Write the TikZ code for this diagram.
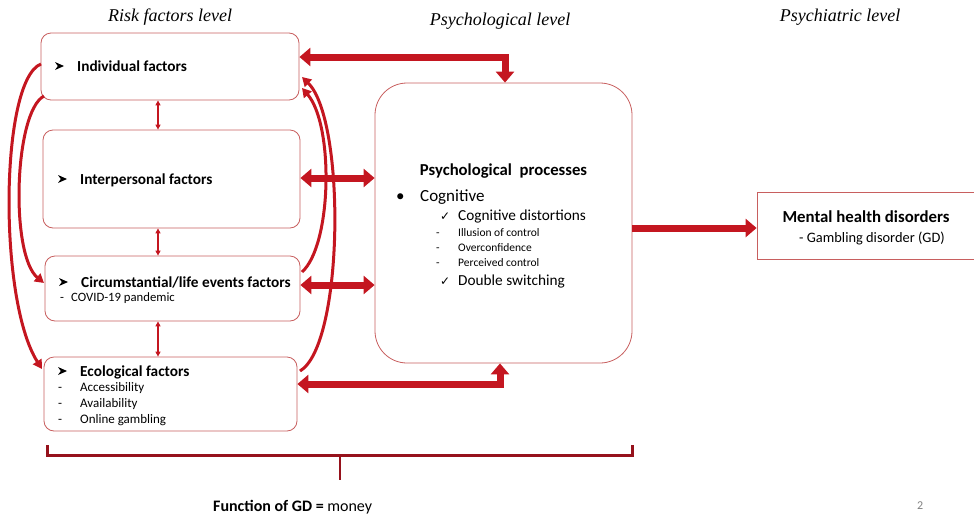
\documentclass[tikz,border=0pt]{standalone}
\usepackage{fontspec}
\setmainfont{Carlito}
\newfontfamily\titlefont{Liberation Serif}
\newfontfamily\symfont{DejaVu Sans}
\usetikzlibrary{arrows.meta}
\definecolor{arrowred}{RGB}{196,22,32}
\definecolor{boxred}{RGB}{200,95,95}
\definecolor{bracketred}{RGB}{150,18,28}
\begin{document}
\begin{tikzpicture}[x=1pt,y=-1pt,
  box/.style={draw=boxred, line width=0.8pt, rounded corners=10pt, fill=white, inner sep=0pt},
  lbl/.style={anchor=base west, inner sep=0pt},
  ctr/.style={anchor=base, inner sep=0pt},
  ttl/.style={anchor=base, inner sep=0pt, font=\titlefont\itshape\fontsize{18}{20}\selectfont},
  dbl/.style={draw=arrowred, line width=7pt, {Triangle[width=18pt,length=11pt]}-{Triangle[width=18pt,length=11pt]}},
  sgl/.style={draw=arrowred, line width=7pt, -{Triangle[width=18pt,length=11pt]}},
  small/.style={draw=arrowred, line width=1.3pt, {Triangle[width=5pt,length=5pt]}-{Triangle[width=5pt,length=5pt]}},
  curve/.style={draw=arrowred, line width=3pt, -{Triangle[width=10pt,length=9pt]}},
  arrbul/.pic={\fill[black] (0,-4) -- (9,0) -- (0,4) -- (2.8,0) -- cycle;},
]
\useasboundingbox (0,0) rectangle (974,517);

% titles
\node[ttl] (t1) at (170,21) {Risk factors level};
\node[ttl] (t2) at (500,25) {Psychological level};
\node[ttl] (t3) at (840,21) {Psychiatric level};

% boxes
\node[box, minimum width=258pt, minimum height=67pt] (ind) at (170,66.5) {};
\node[box, minimum width=257pt, minimum height=98pt] (inter) at (171.5,179) {};
\node[box, minimum width=255pt, minimum height=65pt] (circ) at (172.5,288.5) {};
\node[box, minimum width=253pt, minimum height=74pt] (eco) at (170.5,394) {};
\node[box, rounded corners=32pt, minimum width=257pt, minimum height=280pt] (psy) at (503.5,223) {};
\node[draw=boxred, line width=0.8pt, fill=white, inner sep=0pt, minimum width=225pt, minimum height=67pt] (mhd) at (869.5,225.5) {};

% bullets
\pic at (55,66) {arrbul};
\pic at (58,179) {arrbul};
\pic at (59,282) {arrbul};
\pic at (58,371) {arrbul};

% box texts
\node[lbl, font=\bfseries\fontsize{15.3}{17}\selectfont] (ind-t) at (77,71) {Individual factors};
\node[lbl, font=\bfseries\fontsize{15.3}{17}\selectfont] (inter-t) at (80,184) {Interpersonal factors};
\node[lbl, font=\bfseries\fontsize{15.3}{17}\selectfont] (circ-t) at (81,287) {Circumstantial/life events factors};
\node[lbl, font=\fontsize{12.7}{15}\selectfont] (circ-a) at (60,301.5) {\makebox[11pt][l]{-}COVID-19 pandemic};
\node[lbl, font=\bfseries\fontsize{15.3}{17}\selectfont] (eco-t) at (80,376) {Ecological factors};
\node[lbl, font=\fontsize{13}{15}\selectfont] (eco-a) at (58,391.5) {\makebox[22pt][l]{-}Accessibility};
\node[lbl, font=\fontsize{13}{15}\selectfont] (eco-b) at (58,407.5) {\makebox[22pt][l]{-}Availability};
\node[lbl, font=\fontsize{13}{15}\selectfont] (eco-c) at (58,423.5) {\makebox[22pt][l]{-}Online gambling};

\node[ctr, font=\bfseries\fontsize{16.7}{19}\selectfont] (psy-t) at (503.5,175.5) {Psychological\ \ processes};
\node[lbl, font=\fontsize{17}{19}\selectfont] (psy-a) at (396,201.5) {\makebox[24pt][l]{•}Cognitive};
\node[lbl, font=\fontsize{15.3}{17}\selectfont] (psy-b) at (440,220.5) {\makebox[18pt][l]{\symfont\fontsize{12}{14}\selectfont ✓}Cognitive distortions};
\node[lbl, font=\fontsize{11.5}{13}\selectfont] (psy-c) at (436,236) {\makebox[22pt][l]{-}Illusion of control};
\node[lbl, font=\fontsize{11.5}{13}\selectfont] (psy-d) at (436,251) {\makebox[22pt][l]{-}Overconfidence};
\node[lbl, font=\fontsize{11.5}{13}\selectfont] (psy-e) at (436,266) {\makebox[22pt][l]{-}Perceived control};
\node[lbl, font=\fontsize{15.3}{17}\selectfont] (psy-f) at (440,285.5) {\makebox[18pt][l]{\symfont\fontsize{12}{14}\selectfont ✓}Double switching};

\node[ctr, font=\bfseries\fontsize{16.8}{19}\selectfont] (mhd-t) at (866,222.5) {Mental health disorders};
\node[ctr, font=\fontsize{14.4}{17}\selectfont] (mhd-a) at (872,242) {- Gambling disorder (GD)};

% thick arrows
\coordinate (ct) at (505,57);
\coordinate (cb) at (500,384);
\draw[dbl] (ind.east |- ct) -- (ct) -- (ct |- psy.north);
\draw[dbl] (eco.east |- cb) -- (cb) -- (cb |- psy.south);
\coordinate (ci) at (0,178);
\coordinate (cc) at (0,285);
\coordinate (cm) at (0,228);
\draw[dbl] (inter.east |- ci) -- (psy.west |- ci);
\draw[dbl] (circ.east |- cc) -- (psy.west |- cc);
\draw[sgl] (psy.east |- cm) -- (mhd.west |- cm);

% small arrows
\coordinate (cs) at (158,0);
\draw[small] (ind.south -| cs) -- (inter.north -| cs);
\draw[small] (inter.south -| cs) -- (circ.north -| cs);
\draw[small] (circ.south -| cs) -- (eco.north -| cs);

% curved arrows left
\coordinate (l1) at (41,64);
\coordinate (l2) at (44,96);
\coordinate (l3) at (44,283);
\coordinate (l4) at (42,369);
\draw[curve] (l1) .. controls (0,80) and (-2,300) .. (l4);
\draw[curve] (l2) .. controls (14,112) and (10,255) .. (l3);
% curved arrows right
\coordinate (r1) at (302,77);
\coordinate (r2) at (302,88);
\coordinate (r3) at (302,272);
\coordinate (r4) at (300,371);
\draw[curve] (r4) .. controls (344,345) and (346,120) .. (r1);
\draw[curve] (r3) .. controls (332,245) and (334,125) .. (r2);

% bracket
\coordinate (b1) at (47,445);
\coordinate (b2) at (632,445);
\coordinate (bm) at (340,455);
\coordinate (bt) at (340,480);
\draw[bracketred, line width=3pt] (b1) -- (b1 |- bm) -- (b2 |- bm) -- (b2);
\draw[bracketred, line width=2pt] (bm) -- (bt);

\node[lbl, font=\fontsize{16}{18}\selectfont] (fn) at (213,511) {\textbf{Function of GD =} money};
\node[lbl, font=\fontsize{12}{14}\selectfont, text=gray] (pg) at (917,509) {2};
\end{tikzpicture}
\end{document}
